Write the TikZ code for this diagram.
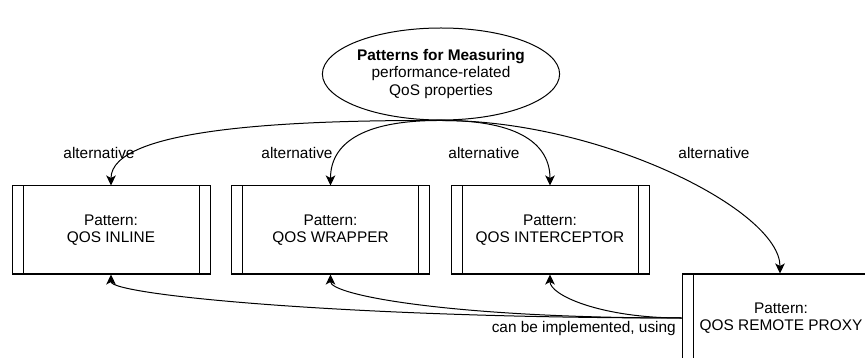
\documentclass[tikz,border=0pt]{standalone}
\usepackage{fontspec}
\setmainfont{Liberation Sans}
\usetikzlibrary{shapes.geometric,arrows.meta}
\begin{document}
\begin{tikzpicture}[x=1pt,y=-1pt,
  every node/.style={font=\fontsize{15.4}{17.5}\selectfont},
  pbox/.style={draw,line width=1pt,minimum width=198pt,minimum height=88pt,inner sep=0pt,align=center,
    path picture={
      \draw[line width=1pt] ([xshift=11pt]path picture bounding box.north west) -- ([xshift=11pt]path picture bounding box.south west);
      \draw[line width=1pt] ([xshift=-11pt]path picture bounding box.north east) -- ([xshift=-11pt]path picture bounding box.south east);
    }},
  conn/.style={line width=1pt,-{Stealth[length=10pt,width=9.5pt,inset=2.5pt]}},
  lbl/.style={inner sep=0pt}
]
\useasboundingbox (0,0) rectangle (865,358);
\node[draw,ellipse,line width=1pt,minimum width=222pt,minimum height=92pt,inner sep=0pt,align=center] (top) at (441,74)
  {\textbf{Patterns for Measuring}\\performance-related\\QoS properties};
\node[pbox] (b1) at (111,230) {Pattern:\\QOS INLINE};
\node[pbox] (b2) at (330.5,230) {Pattern:\\QOS WRAPPER};
\node[pbox] (b3) at (550,230) {Pattern:\\QOS INTERCEPTOR};
\node[pbox] (b4) at (781,318) {Pattern:\\QOS REMOTE PROXY};

\draw[conn] (top.south) .. controls (290,120) and (111,128) .. (b1.north);
\draw[conn] (top.south) .. controls (360,120) and (330.5,145) .. (b2.north);
\draw[conn] (top.south) .. controls (520,120) and (550,145) .. (b3.north);
\draw[conn] (top.south) .. controls (600,120) and (780,210) .. (b4.north -| 780,0);

\coordinate (src) at (b4.west);
\draw[conn] (src) .. controls (350,318) and (111,295) .. (b1.south);
\draw[conn] (src) .. controls (450,318) and (330.5,295) .. (b2.south);
\draw[conn] (src) .. controls (600,318) and (550,295) .. (b3.south);

\node[lbl] (l1) at (99,153) {alternative};
\node[lbl] (l2) at (297,153) {alternative};
\node[lbl] (l3) at (484,153) {alternative};
\node[lbl] (l4) at (714,153) {alternative};
\node[lbl,anchor=east] (l5) at (676,329) {can be implemented, using};
\end{tikzpicture}
\end{document}
